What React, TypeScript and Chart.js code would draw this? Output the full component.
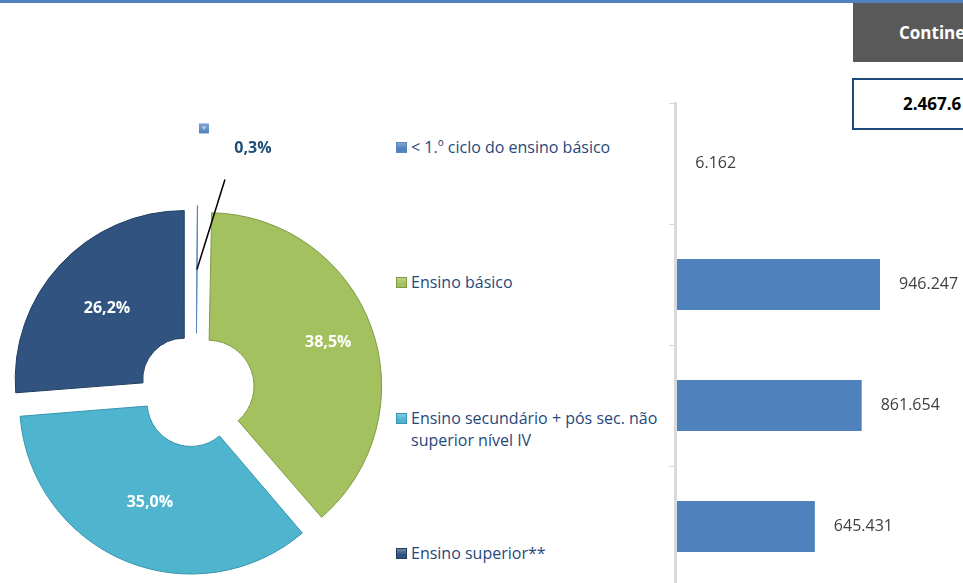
import React, { useEffect, useRef } from 'react';
import { Chart, registerables } from 'chart.js';

Chart.register(...registerables);

// ---- data ----
const categories: string[] = [
  '< 1.º ciclo do ensino básico',
  'Ensino básico',
  'Ensino secundário + pós sec. não superior nível IV',
  'Ensino superior**',
];
const values: number[] = [6162, 946247, 861654, 645431];
const headerTitle = 'Continente';
const headerTotal = '2.467.6';

// ---- styles ----
const sliceColors = ['#4F81BD', '#A3C15E', '#4FB5CF', '#30547F'];
const sliceBorders = ['#5A86BE', '#7F9B42', '#3794AE', '#203D60'];
const sliceExplode = [32, 52, 52, 64];
const labelRadialNudge = [0, 18, 0, 0];
const barColor = '#4F81BD';
const legendColor = '#1F497D';

const fmtThousands = (v: number) => String(v).replace(/\B(?=(\d{3})+(?!\d))/g, '.');

const pieLabels = {
  id: 'pieLabels',
  afterDatasetsDraw(chart: any) {
    const ctx = chart.ctx as CanvasRenderingContext2D;
    const meta = chart.getDatasetMeta(0);
    const total = values.reduce((a, b) => a + b, 0);
    meta.data.forEach((arc: any, i: number) => {
      const p = arc.getProps(['x', 'y', 'startAngle', 'endAngle', 'innerRadius', 'outerRadius', 'circumference']);
      const t = (arc.options.offset || 0) / 4;
      const fix = 1 - Math.sin(Math.min(Math.PI, p.circumference));
      const mid = (p.startAngle + p.endAngle) / 2;
      const d = (p.innerRadius + p.outerRadius) / 2 + t * fix + t + (labelRadialNudge[i] || 0);
      const px = p.x + Math.cos(mid) * d;
      const py = p.y + Math.sin(mid) * d;
      const pct = (values[i] / total) * 100;
      const text = pct.toFixed(1).replace('.', ',') + '%';
      ctx.save();
      ctx.font = 'bold 16px "Open Sans"';
      ctx.textAlign = 'center';
      ctx.textBaseline = 'middle';
      if (pct < 2) {
        const sx = px + 28;
        const sy = py - 90;
        ctx.strokeStyle = '#000';
        ctx.lineWidth = 1.5;
        ctx.beginPath();
        ctx.moveTo(px, py);
        ctx.lineTo(sx, sy);
        ctx.stroke();
        ctx.fillStyle = '#1F4E79';
        ctx.fillText(text, px + 56, py - 121);
        const kx = px + 2;
        const ky = py - 146;
        const g = ctx.createLinearGradient(kx, ky, kx, ky + 10);
        g.addColorStop(0, '#7FA3D3');
        g.addColorStop(1, sliceColors[i]);
        ctx.fillStyle = g;
        ctx.fillRect(kx, ky, 10, 10);
        ctx.fillStyle = 'rgba(255,255,255,0.55)';
        ctx.beginPath();
        ctx.moveTo(kx + 2.5, ky + 3);
        ctx.lineTo(kx + 7.5, ky + 3);
        ctx.lineTo(kx + 5, ky + 6.5);
        ctx.closePath();
        ctx.fill();
      } else {
        ctx.fillStyle = '#FFFFFF';
        ctx.fillText(text, px, py);
      }
      ctx.restore();
    });
  },
};

const barLabels = {
  id: 'barLabels',
  afterDatasetsDraw(chart: any) {
    const ctx = chart.ctx as CanvasRenderingContext2D;
    const meta = chart.getDatasetMeta(0);
    ctx.save();
    ctx.font = '16px "Open Sans"';
    ctx.fillStyle = '#404040';
    ctx.textAlign = 'left';
    ctx.textBaseline = 'middle';
    meta.data.forEach((bar: any, i: number) => {
      const { x, y } = bar.getProps(['x', 'y']);
      ctx.fillText(fmtThousands(values[i]), x + 19, y);
    });
    ctx.restore();
  },
};

export default function App() {
  const pieRef = useRef<HTMLCanvasElement | null>(null);
  const barRef = useRef<HTMLCanvasElement | null>(null);

  useEffect(() => {
    const pie = new Chart(pieRef.current as HTMLCanvasElement, {
      type: 'doughnut',
      data: {
        labels: categories,
        datasets: [
          {
            data: values,
            backgroundColor: sliceColors,
            borderColor: sliceBorders,
            borderWidth: 1,
            offset: sliceExplode,
            clip: false,
          } as any,
        ],
      },
      options: {
        responsive: false,
        animation: false,
        devicePixelRatio: 1,
        radius: 169,
        cutout: '24.5%',
        layout: { padding: { top: 198 } },
        plugins: { legend: { display: false }, tooltip: { enabled: false } },
      } as any,
      plugins: [pieLabels],
    });

    const bar = new Chart(barRef.current as HTMLCanvasElement, {
      type: 'bar',
      data: {
        labels: categories,
        datasets: [
          {
            data: values,
            backgroundColor: barColor,
            barPercentage: 0.42,
            categoryPercentage: 1,
          },
        ],
      },
      options: {
        indexAxis: 'y',
        responsive: false,
        animation: false,
        devicePixelRatio: 1,
        layout: { padding: { left: 69, top: 103, bottom: 33, right: 165 } },
        scales: {
          x: { display: false, min: 0, max: 1200000 },
          y: {
            grid: {
              display: true,
              drawOnChartArea: false,
              drawTicks: true,
              tickLength: 6,
              color: '#D9D9D9',
              offset: true,
            },
            border: { display: true, color: '#D9D9D9', width: 3, z: 1 },
            ticks: { display: false },
          },
        },
        plugins: { legend: { display: false }, tooltip: { enabled: false } },
      } as any,
      plugins: [barLabels],
    });

    return () => {
      pie.destroy();
      bar.destroy();
    };
  }, []);

  return (
    <div
      style={{
        position: 'fixed',
        left: 0,
        top: 0,
        width: 963,
        height: 583,
        overflow: 'hidden',
        background: '#FFFFFF',
        fontFamily: '"Open Sans", sans-serif',
      }}
    >
      <div style={{ position: 'absolute', left: 0, top: 0, width: 963, height: 3, background: '#4F81BD' }} />
      <div
        style={{
          position: 'absolute',
          left: 853,
          top: 3,
          width: 200,
          height: 59,
          background: '#595959',
          color: '#FFFFFF',
          fontWeight: 700,
          fontSize: 17,
          lineHeight: '59px',
          paddingLeft: 46,
          boxSizing: 'border-box',
          whiteSpace: 'nowrap',
        }}
      >
        {headerTitle}
      </div>
      <div
        style={{
          position: 'absolute',
          left: 852,
          top: 78,
          width: 200,
          height: 52,
          border: '2px solid #1F497D',
          color: '#000000',
          fontWeight: 700,
          fontSize: 17,
          lineHeight: '48px',
          paddingLeft: 49,
          boxSizing: 'border-box',
          whiteSpace: 'nowrap',
        }}
      >
        {headerTotal}
      </div>

      <canvas
        ref={pieRef}
        width={392}
        height={583}
        style={{ position: 'absolute', left: 0, top: 0, width: 392, height: 583 }}
      />

      {categories.map((c, i) => (
        <div
          key={c}
          style={{
            position: 'absolute',
            left: 396,
            top: 136 + Math.round(i * 135.3),
            display: 'flex',
            alignItems: 'flex-start',
            color: legendColor,
            fontSize: 16,
            lineHeight: '22px',
          }}
        >
          <div
            style={{
              width: 11,
              height: 11,
              marginTop: 6,
              marginRight: 4,
              flex: '0 0 auto',
              background: `linear-gradient(to bottom, rgba(255,255,255,0.35), rgba(255,255,255,0) 60%), ${sliceColors[i]}`,
              boxShadow: `inset 0 0 0 1px ${sliceBorders[i]}`,
            }}
          />
          <div style={{ width: 258 }}>{c}</div>
        </div>
      ))}

      <canvas
        ref={barRef}
        width={500}
        height={620}
        style={{ position: 'absolute', left: 600, top: 0, width: 500, height: 620 }}
      />
    </div>
  );
}
